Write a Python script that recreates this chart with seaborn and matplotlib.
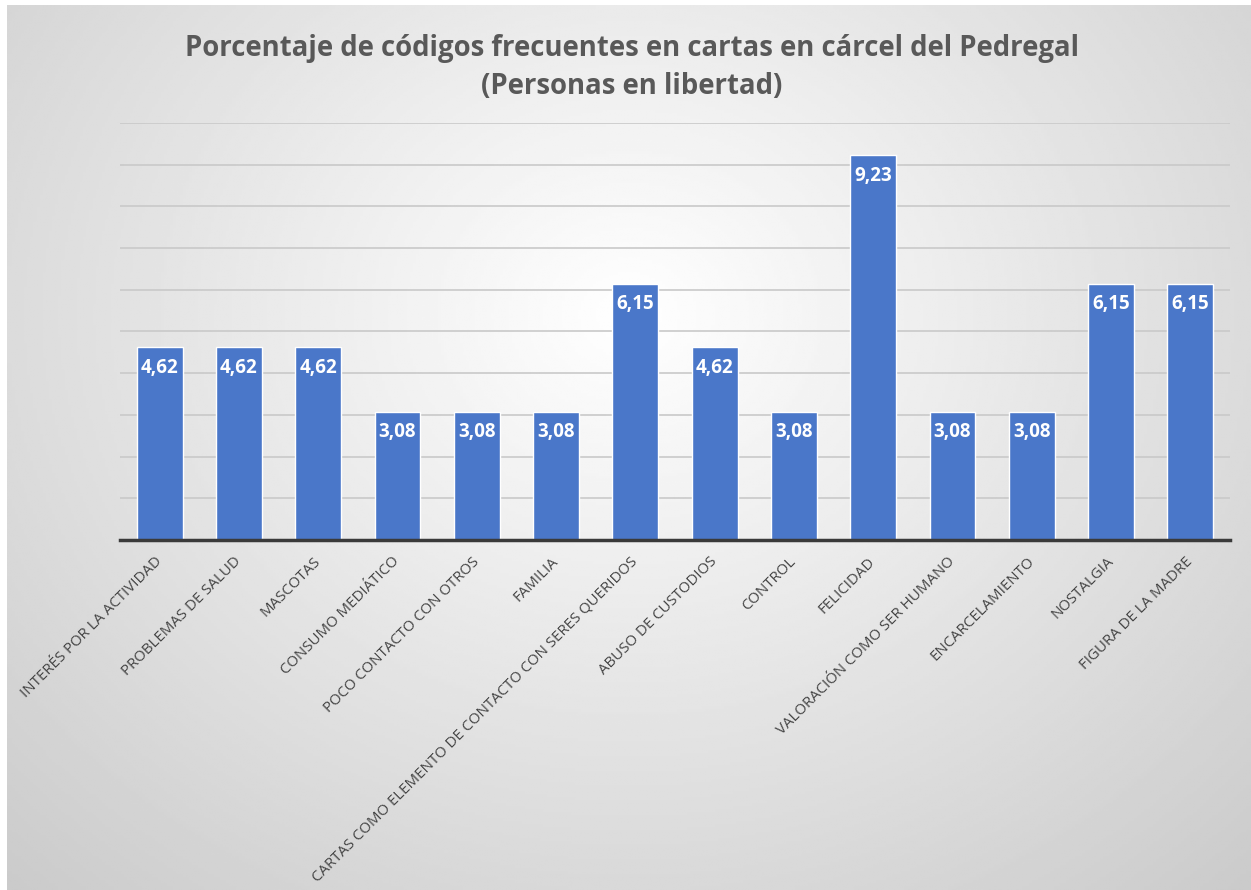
import numpy as np
import pandas as pd
import seaborn as sns
import matplotlib.pyplot as plt

# datos
categorias = [
    "INTERÉS POR LA ACTIVIDAD", "PROBLEMAS DE SALUD", "MASCOTAS", "CONSUMO MEDIÁTICO",
    "POCO CONTACTO CON OTROS", "FAMILIA", "CARTAS COMO ELEMENTO DE CONTACTO CON SERES QUERIDOS",
    "ABUSO DE CUSTODIOS", "CONTROL", "FELICIDAD", "VALORACIÓN COMO SER HUMANO",
    "ENCARCELAMIENTO", "NOSTALGIA", "FIGURA DE LA MADRE",
]
porcentajes = [4.62, 4.62, 4.62, 3.08, 3.08, 3.08, 6.15, 4.62, 3.08, 9.23, 3.08, 3.08, 6.15, 6.15]
titulo = "Porcentaje de códigos frecuentes en cartas en cárcel del Pedregal\n(Personas en libertad)"

df = pd.DataFrame({"codigo": categorias, "pct": porcentajes})

sns.set_style("white")
plt.rcParams["font.family"] = ["Open Sans", "DejaVu Sans"]

fig = plt.figure(figsize=(12.51, 8.9), dpi=100)

# fondo con degradado radial
bg = fig.add_axes([7 / 1251, 0, 1 - 7 / 1251, 1 - 5 / 890], zorder=-10)
yy, xx = np.mgrid[0:1:300j, 0:1:400j]
r = np.sqrt(((xx - 0.5) / 0.75) ** 2 + ((yy - 0.35) / 0.9) ** 2)
grad = 1.0 - 0.21 * np.clip(r, 0, 1.2)
bg.imshow(grad, cmap="gray", vmin=0, vmax=1, aspect="auto", extent=[0, 1, 1, 0])
bg.axis("off")

ax = fig.add_axes([120 / 1251, 1 - 540 / 890, 1110 / 1251, (540 - 123) / 890])
ax.patch.set_alpha(0)
sns.barplot(data=df, x="codigo", y="pct", color="#4a77c9", saturation=1, width=0.58, ax=ax, zorder=3)

ax.set_ylim(0, 10)
ax.set_yticks(np.arange(0, 11, 1))
ax.set_yticklabels([])
ax.tick_params(axis="y", length=0)
ax.grid(axis="y", color="#c9c9c9", linewidth=1.2, zorder=0)
ax.set_xlabel("")
ax.set_ylabel("")
for s in ["top", "right", "left"]:
    ax.spines[s].set_visible(False)
ax.spines["bottom"].set_color("#3a3a3a")
ax.spines["bottom"].set_linewidth(2.5)
ax.spines["bottom"].set_zorder(5)

ax.tick_params(axis="x", length=0, pad=14)
ax.set_xticks(range(len(categorias)))
ax.set_xticklabels(categorias, rotation=45, ha="right", va="center", rotation_mode="anchor",
                   fontsize=10.8, color="#454545")

ax.bar_label(ax.containers[0], labels=[f"{v:.2f}".replace(".", ",") for v in porcentajes],
             label_type="edge", padding=-22, color="white", fontsize=13.5, fontweight="bold")

fig.text(0.505, 0.962, titulo, ha="center", va="top", fontsize=19.8, fontweight="bold",
         color="#595959", linespacing=1.4)

fig.savefig("out.png", dpi=100)
